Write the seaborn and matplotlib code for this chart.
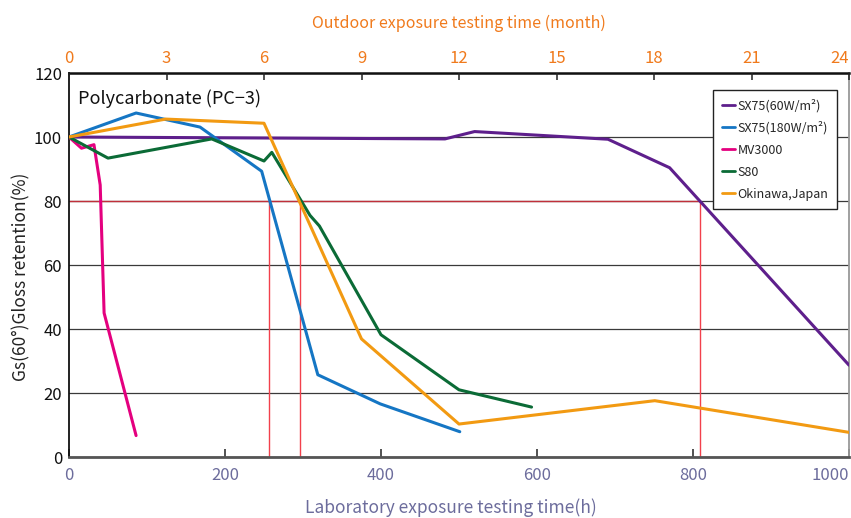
import pandas as pd
import matplotlib
matplotlib.use("Agg")
import matplotlib.pyplot as plt
import seaborn as sns

# 1. DATA
SERIES = ["SX75(60W/m²)", "SX75(180W/m²)", "MV3000", "S80", "Okinawa,Japan"]

sx75_60_h = [0, 482, 520, 691, 770, 1000]
sx75_60_v = [100, 99.4, 101.7, 99.3, 90.4, 28.7]

sx75_180_h = [0, 86, 168, 247, 319, 399, 501]
sx75_180_v = [100, 107.5, 103.1, 89.3, 25.7, 16.6, 7.9]

mv3000_h = [0, 16, 32, 40, 45, 86]
mv3000_v = [100, 96.5, 97.6, 85, 45, 6.7]

s80_h = [0, 50, 183, 250, 260, 309, 321, 400, 500, 593]
s80_v = [100, 93.4, 99.4, 92.5, 95.2, 75.5, 72.2, 38.2, 21, 15.6]

okinawa_h = [0, 124, 250, 375, 500, 751, 1000]
okinawa_v = [100, 105.6, 104.3, 36.9, 10.3, 17.6, 7.7]

# 80 % retention level and the hours where each curve reaches it
RETENCION = 80
horas_cruce = [257, 296, 809]

y_ticks = [0, 20, 40, 60, 80, 100, 120]
x_ticks = [0, 200, 400, 600, 800, 1000]
mes_ticks = [0, 3, 6, 9, 12, 15, 18, 21, 24]

COLORES = {
    "SX75(60W/m²)": "#5e1f8c",
    "SX75(180W/m²)": "#1576c4",
    "MV3000": "#e4007f",
    "S80": "#0b6b36",
    "Okinawa,Japan": "#f29a12",
}

partes = []
for nombre, h, v in zip(
    SERIES,
    [sx75_60_h, sx75_180_h, mv3000_h, s80_h, okinawa_h],
    [sx75_60_v, sx75_180_v, mv3000_v, s80_v, okinawa_v],
):
    partes.append(pd.DataFrame({"horas": h, "retencion": v, "serie": nombre}))
df = pd.concat(partes, ignore_index=True)

# 2. FIGURE
sns.set_style("white")
plt.rcParams["font.family"] = ["Noto Sans CJK JP", "DejaVu Sans"]

fig = plt.figure(figsize=(8.51, 5.18), dpi=100)
ax = fig.add_axes([69 / 851, 1 - 457 / 518, 780 / 851, 384 / 518])

ax.set_xlim(0, 1000)
ax.set_ylim(0, 120)
ax.set_yticks(y_ticks)
ax.set_xticks(x_ticks)
ax.yaxis.grid(True, color="#3a3a3a", linewidth=0.9)
ax.set_axisbelow(True)

# red guide lines at 80 % retention
ax.hlines(RETENCION, 0, max(horas_cruce), color="#c0303a", linewidth=1.0, zorder=2)
ax.vlines(horas_cruce, 0, RETENCION, color="#f2404c", linewidth=1.0, zorder=2)

sns.lineplot(
    data=df,
    x="horas",
    y="retencion",
    hue="serie",
    hue_order=SERIES,
    palette=COLORES,
    estimator=None,
    sort=False,
    linewidth=2.2,
    ax=ax,
    zorder=3,
)

# 3. AXES STYLE
ax.set_xlabel("Laboratory exposure testing time(h)", fontsize=12.5,
              color="#6c6c9c")
ax.xaxis.set_label_coords(0.49, -0.133)
ax.xaxis.label.set_verticalalignment("center")
ax.set_ylabel("Gs(60°)Gloss retention(%)", fontsize=12.5, color="#222222")
ax.yaxis.set_label_coords(-0.05, 0.47)

ax.tick_params(axis="x", direction="in", length=6, width=1.1, color="#222222",
               labelsize=12, labelcolor="#6c6c9c", pad=7)
ax.tick_params(axis="y", length=0, labelsize=12, labelcolor="#111111", pad=5)
ax.get_xticklabels()[-1].set_horizontalalignment("right")

for lado, color, ancho in [("left", "#111111", 1.3), ("bottom", "#555555", 2.0),
                           ("top", "#111111", 1.8), ("right", "#999999", 1.3)]:
    ax.spines[lado].set_color(color)
    ax.spines[lado].set_linewidth(ancho)

ax.text(0.012, 0.932, "Polycarbonate (PC−3)", transform=ax.transAxes,
        fontsize=13, va="center", ha="left", color="#111111")

ax2 = ax.twiny()
ax2.set_xlim(0, 24)
ax2.set_xticks(mes_ticks)
ax2.tick_params(axis="x", direction="in", length=5, width=1.1, color="#222222",
                labelsize=12, labelcolor="#f07a1c", pad=4)
ax2.get_xticklabels()[-1].set_horizontalalignment("right")
ax2.set_xlabel("Outdoor exposure testing time (month)", fontsize=11.5,
               color="#f07a1c", labelpad=16)
for lado in ax2.spines:
    ax2.spines[lado].set_visible(False)

# 4. LEGEND
handles, labels = ax.get_legend_handles_labels()
for hnd in handles:
    hnd.set_linewidth(2.0)
leg = ax.legend(
    handles, labels,
    loc="upper right",
    bbox_to_anchor=(0.985, 0.956),
    borderaxespad=0,
    fontsize=9,
    handlelength=1.0,
    handletextpad=0.25,
    labelspacing=0.72,
    borderpad=0.7,
    fancybox=False,
    framealpha=1,
    edgecolor="#222222",
)
leg.get_frame().set_linewidth(1.0)

fig.savefig("out.png", dpi=100)
